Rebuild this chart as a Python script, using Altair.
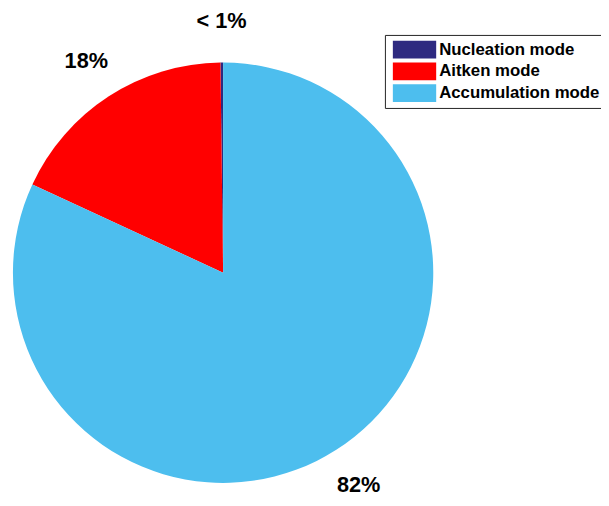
import altair as alt
import pandas as pd

modes = ["Nucleation mode", "Aitken mode", "Accumulation mode"]
shares = [0.2, 17.9, 81.9]
labels = ["< 1%", "18%", "82%"]
colors = ["#2E2A80", "#FF0000", "#4DBEEE"]
draw_order = [3, 2, 1]  # clockwise from 12 o'clock

df = pd.DataFrame({"mode": modes, "share": shares, "label": labels, "ord": draw_order})

base = alt.Chart(df).encode(
    theta=alt.Theta("share:Q", stack=True),
    order=alt.Order("ord:Q", sort="ascending"),
    x=alt.value(218),
    y=alt.value(265),
)

arcs = base.mark_arc(radius=213, stroke=None).encode(
    color=alt.Color(
        "mode:N",
        scale=alt.Scale(domain=modes, range=colors),
        legend=alt.Legend(
            title=None,
            orient="none",
            legendX=382,
            legendY=24,
            symbolType="M-2.44,-1H2.44V1H-2.44Z",
            symbolSize=324,
            symbolOffset=15,
            symbolStrokeWidth=0,
            symbolOpacity=1,
            labelFont="Liberation Sans",
            labelFontWeight="bold",
            labelFontSize=17,
            labelColor="black",
            labelOffset=16,
            rowPadding=4,
            padding=6,
            strokeColor="#222222",
            fillColor="white",
            labelLimit=300,
        ),
    )
)

text = base.mark_text(
    radius=255, font="Liberation Sans", fontWeight="bold", fontSize=22, color="black"
).encode(text="label:N")

chart = alt.layer(arcs, text).properties(
    width=601, height=490, padding=0, autosize=alt.AutoSizeParams(type="none")
).configure_view(stroke=None)

chart.save("out.html", embed_options={"renderer": "svg", "actions": False})
